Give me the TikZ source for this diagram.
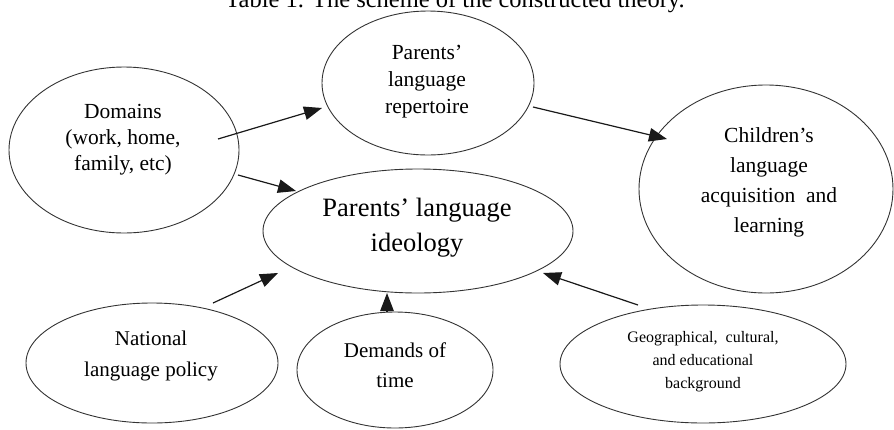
\documentclass[tikz,border=0pt]{standalone}
\usepackage{fontspec}
\setmainfont{Liberation Serif}
\usetikzlibrary{shapes.geometric,arrows.meta,calc}
\begin{document}
\begin{tikzpicture}[x=1pt,y=-1pt,
  ell/.style={draw=black!80, line width=0.9pt, ellipse, inner sep=0pt},
  arr/.style={-{Triangle[length=18pt,width=13.5pt]}, line width=1.2pt, black!90},
  txt/.style={align=center, inner sep=0pt}]
\useasboundingbox (0,0) rectangle (894,429);
\clip (0,0) rectangle (894,429);
% caption (top half cut off)
\node[inner sep=0pt, anchor=base, font=\fontsize{24.5}{28}\selectfont] (cap) at (455,7) {Table 1. The scheme of the constructed theory.};
% ellipses
\node[ell, minimum width=212pt, minimum height=144pt] (rep) at (428,83) {};
\node[ell, minimum width=230pt, minimum height=166pt] (dom) at (124,150) {};
\node[ell, minimum width=310pt, minimum height=124pt] (ideo) at (418,231) {};
\node[ell, minimum width=254pt, minimum height=208pt] (chi) at (766,189) {};
\node[ell, minimum width=252pt, minimum height=120pt] (nat) at (152,363) {};
\node[ell, minimum width=196pt, minimum height=116pt] (dem) at (395,370) {};
\node[ell, minimum width=286pt, minimum height=118pt] (geo) at (703,364) {};
% texts
\node[txt, font=\fontsize{21.5}{27}\selectfont] (repT) at (427,82) {Parents’\\language\\repertoire};
\node[txt, font=\fontsize{21.5}{26}\selectfont] (domT) at (123,140) {Domains\\(work, home,\\family, etc)};
\node[txt, font=\fontsize{26.5}{35}\selectfont] (ideoT) at (417,228) {Parents’ language\\ideology};
\node[txt, font=\fontsize{21.5}{30}\selectfont] (chiT) at (769,182) {Children’s\\language\\acquisition~ and\\learning};
\node[txt, font=\fontsize{21}{31}\selectfont] (natT) at (151,356) {National\\language policy};
\node[txt, font=\fontsize{21}{30}\selectfont] (demT) at (395,365) {Demands of\\time};
\node[txt, font=\fontsize{16}{23}\selectfont] (geoT) at (703,362) {Geographical,~ cultural,\\and educational\\background};
% arrows
\draw[arr] ($(dom)+(94,-11)$) -- ($(rep)+(-106,25)$);
\draw[arr] ($(rep)+(105,24)$) -- ($(chi)+(-99,-50)$);
\draw[arr] ($(dom)+(114,25)$) -- ($(ideo)+(-122,-40)$);
\draw[arr] ($(nat)+(61,-60)$) -- ($(ideo)+(-140,42)$);
\draw[arr] ($(dem)+(-8,-58)$) -- ($(ideo)+(-31,62)$);
\draw[arr] ($(geo)+(-65,-59)$) -- ($(ideo)+(125,42)$);
\end{tikzpicture}
\end{document}
